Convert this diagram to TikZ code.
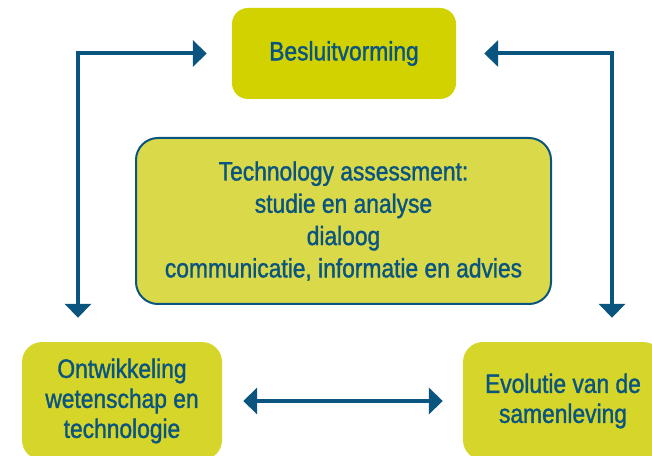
\documentclass[tikz,border=0pt]{standalone}
\usepackage{fontspec}
\setmainfont{Liberation Sans}[FakeStretch=0.86,FakeBold=1.3]
\usetikzlibrary{arrows.meta}

\definecolor{tablue}{HTML}{0A5580}
\definecolor{topfill}{HTML}{D2D200}
\definecolor{midfill}{HTML}{DAD94A}
\definecolor{lowfill}{HTML}{D6D52A}

\tikzset{box/.style={rounded corners=20pt,inner sep=0pt,align=center,text=tablue,font=\fontsize{26.5}{31}\selectfont}}
\tikzset{flow/.style={draw=tablue,line width=4pt,{Triangle[length=14pt,width=26pt]}-{Triangle[length=14pt,width=26pt]}}}

\begin{document}
\begin{tikzpicture}[x=1pt,y=1pt]
        % picture frame
        \clip (0,0) rectangle (652,455);
        % the four boxes
        \node[box,fill=topfill,rounded corners=16pt,minimum width=224pt,minimum height=91pt] (beslu) at (344,401.5) {Besluitvorming};
        \node[box,fill=midfill,draw=tablue,line width=2pt,rounded corners=22pt,minimum width=415pt,minimum height=166pt,font=\fontsize{26.5}{32.3}\selectfont] (ta) at (343.5,234) {Technology assessment:\\studie en analyse\\dialoog\\communicatie, informatie en advies};
        \node[box,fill=lowfill,minimum width=200pt,minimum height=118pt,font=\fontsize{26.5}{30}\selectfont] (ontw) at (122,54) {Ontwikkeling\\wetenschap en\\technologie};
        \node[box,fill=lowfill,minimum width=200pt,minimum height=118pt,font=\fontsize{26.5}{30}\selectfont] (evol) at (563,54) {Evolutie van de\\samenleving};
        
        % the arrows
        \coordinate (lpost) at (78,0);
        \coordinate (rpost) at (612,0);
        \draw[flow,shorten <=24pt,shorten >=25pt] (ontw.north -| lpost) |- (beslu.west);
        \draw[flow,shorten <=24pt,shorten >=28pt] (evol.north -| rpost) |- (beslu.east);
        \draw[flow,shorten <=21pt,shorten >=20pt] (ontw.east) -- (evol.west);
    \end{tikzpicture}
\end{document}
